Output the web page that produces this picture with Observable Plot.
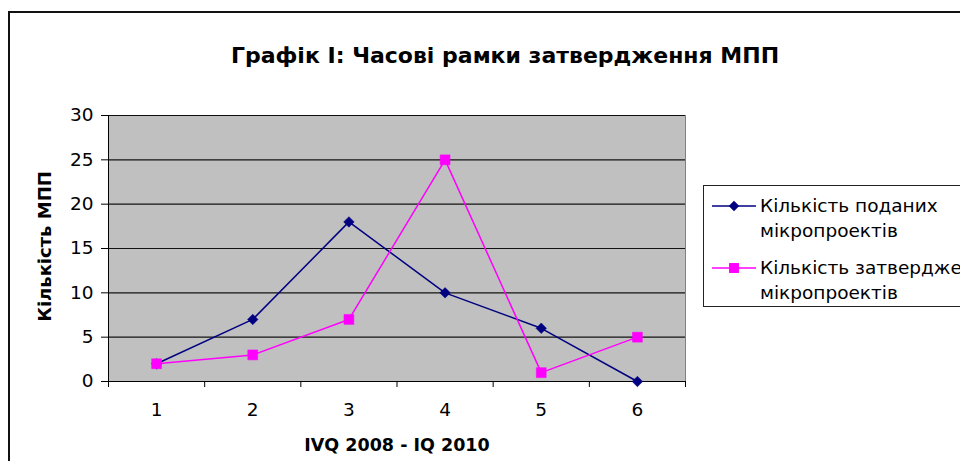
<!DOCTYPE html>
<html>
<head>
<meta charset="utf-8">
<script src="https://cdn.jsdelivr.net/npm/d3@7"></script>
<script src="https://cdn.jsdelivr.net/npm/@observablehq/plot@0.6"></script>
<style>
  html, body { margin: 0; padding: 0; background: #fff; overflow: hidden; width: 960px; height: 461px; }
  #wrap { position: relative; width: 960px; height: 461px; font-family: "DejaVu Sans", sans-serif; }
  #frame { position: absolute; left: 8px; top: 11px; width: 960px; height: 470px; border-left: 2px solid #111; border-top: 2px solid #111; box-sizing: border-box; }
  #legend { position: absolute; left: 703px; top: 185px; width: 300px; height: 122px; border: 1px solid #222; background: #fff; box-sizing: border-box; }
  .entry { position: absolute; left: 0; display: flex; align-items: flex-start; }
  .entry svg { display: block; }
  .entry .lbl { font-size: 18.5px; line-height: 25px; color: #000; margin-left: 2px; white-space: nowrap; }
</style>
</head>
<body>
<div id="wrap">
  <div id="frame"></div>
  <div id="chart"></div>
  <div id="legend"></div>
</div>
<script>
const categories = [1, 2, 3, 4, 5, 6];
const submitted = [2, 7, 18, 10, 6, 0];
const approved = [2, 3, 7, 25, 1, 5];
const seriesNames = ["Кількість поданих мікропроектів", "Кількість затверджених мікропроектів"];
const yTicks = [0, 5, 10, 15, 20, 25, 30];
const title = "Графік І: Часові рамки затвердження МПП";
const yLabel = "Кількість МПП";
const xLabel = "IVQ 2008 - IQ 2010";

const navy = "#000080";
const magenta = "#ff00ff";

// rotated-square diamond symbol
const squareDiamond = {
  draw(context, size) {
    const r = Math.sqrt(size / 2);
    context.moveTo(0, -r);
    context.lineTo(r, 0);
    context.lineTo(0, r);
    context.lineTo(-r, 0);
    context.closePath();
  }
};

const d1 = categories.map((c, i) => ({x: c, y: submitted[i]}));
const d2 = categories.map((c, i) => ({x: c, y: approved[i]}));
const boundaries = [0.5, ...categories.map(c => c + 0.5)];

const chart = Plot.plot({
  width: 960,
  height: 461,
  marginLeft: 108,
  marginRight: 275,
  marginTop: 115,
  marginBottom: 80,
  style: {fontFamily: "DejaVu Sans, sans-serif", fontSize: "18px", background: "transparent", color: "#000"},
  x: {domain: [0.5, 6.5]},
  y: {domain: [0, 30]},
  marks: [
    Plot.frame({fill: "#c0c0c0", stroke: "#808080"}),
    Plot.gridY(yTicks, {stroke: "#000", strokeOpacity: 0.9, strokeWidth: 1.2}),
    Plot.axisY({ticks: yTicks, tickSize: 7, tickPadding: 8, label: null, tickFormat: d3.format("d"), fontSize: 18.5}),
    Plot.axisX({ticks: boundaries, tickSize: 6, tickFormat: () => "", label: null}),
    Plot.axisX({ticks: categories, tickSize: 0, tickPadding: 21, label: null, tickFormat: d3.format("d"), fontSize: 18.5}),
    Plot.ruleY([0], {stroke: "#000"}),
    Plot.ruleX([0.5], {stroke: "#000"}),
    Plot.line(d1, {x: "x", y: "y", stroke: navy, strokeWidth: 1.5}),
    Plot.line(d2, {x: "x", y: "y", stroke: magenta, strokeWidth: 1.5}),
    Plot.dot(d1, {x: "x", y: "y", symbol: squareDiamond, r: 4.2, fill: navy, stroke: navy, strokeWidth: 0.5}),
    Plot.dot(d2, {x: "x", y: "y", symbol: "square", r: 5.6, fill: magenta, stroke: magenta, strokeWidth: 0.5}),
    Plot.text([title], {frameAnchor: "top", dx: 108, dy: -68, fontSize: 22, fontWeight: "bold", fill: "#000"}),
    Plot.text([yLabel], {frameAnchor: "left", textAnchor: "middle", dx: -63, dy: -2, rotate: -90, fontSize: 18, fontWeight: "bold", fill: "#000"}),
    Plot.text([xLabel], {frameAnchor: "bottom", dy: 69, fontSize: 17.5, fontWeight: "bold", fill: "#000"})
  ]
});
document.getElementById("chart").appendChild(chart);

// Legend
const legend = document.getElementById("legend");
const syms = [
  {color: navy, shape: "diamond", top: 7, lines: ["Кількість поданих", "мікропроектів"]},
  {color: magenta, shape: "square", top: 69, lines: ["Кількість затверджених", "мікропроектів"]}
];
syms.forEach(s => {
  const e = document.createElement("div");
  e.className = "entry";
  e.style.top = s.top + "px";
  const svg = d3.create("svg").attr("width", 54).attr("height", 26);
  svg.append("line").attr("x1", 8).attr("x2", 52).attr("y1", 13).attr("y2", 13).attr("stroke", s.color).attr("stroke-width", 1.5);
  const sym = s.shape === "diamond" ? squareDiamond : d3.symbolSquare;
  const size = s.shape === "diamond" ? Math.PI * 4.2 * 4.2 : Math.PI * 5.6 * 5.6;
  svg.append("path").attr("d", d3.symbol(sym, size)()).attr("transform", "translate(30,13)").attr("fill", s.color);
  e.appendChild(svg.node());
  const l = document.createElement("div");
  l.className = "lbl";
  l.innerHTML = s.lines.join("<br>");
  e.appendChild(l);
  legend.appendChild(e);
});
</script>
</body>
</html>
